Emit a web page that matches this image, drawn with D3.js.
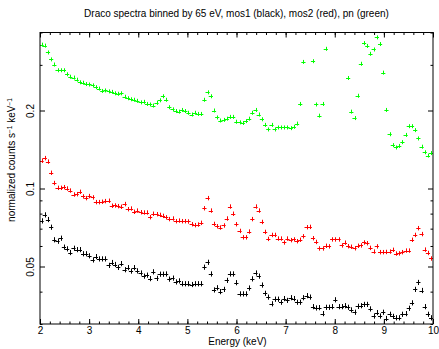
<html>
<head>
<script src="https://d3js.org/d3.v7.min.js"></script>
<style>
    body { margin: 0; background: white; }
    text { font-family: "Liberation Sans", Arial, sans-serif; fill: black; }
</style>
</head>
<body>
<script>

    // spectra, one value per 65 eV bin starting at 2 keV (normalized counts s^-1 keV^-1)
    let binStart = 2.0;
    let binWidth = 0.065;

    let mos1 = [0.0750, 0.0791, 0.0759, 0.0709, 0.0634, 0.0626, 0.0643, 0.0594, 0.0585, 0.0566,
        0.0588, 0.0581, 0.0581, 0.0560, 0.0560, 0.0550, 0.0530, 0.0546, 0.0535, 0.0535,
        0.0535, 0.0505, 0.0518, 0.0509, 0.0496, 0.0513, 0.0486, 0.0495, 0.0480, 0.0495,
        0.0481, 0.0472, 0.0459, 0.0463, 0.0449, 0.0477, 0.0450, 0.0467, 0.0467, 0.0468,
        0.0447, 0.0451, 0.0436, 0.0440, 0.0429, 0.0429, 0.0429, 0.0426, 0.0429, 0.0429,
        0.0429, 0.0497, 0.0519, 0.0468, 0.0406, 0.0414, 0.0400, 0.0408, 0.0442, 0.0468,
        0.0468, 0.0433, 0.0392, 0.0392, 0.0392, 0.0413, 0.0448, 0.0472, 0.0459, 0.0424,
        0.0394, 0.0381, 0.0359, 0.0374, 0.0374, 0.0364, 0.0376, 0.0370, 0.0379, 0.0376,
        0.0364, 0.0364, 0.0379, 0.0386, 0.0381, 0.0350, 0.0346, 0.0347, 0.0329, 0.0348,
        0.0348, 0.0350, 0.0372, 0.0350, 0.0350, 0.0353, 0.0348, 0.0340, 0.0333, 0.0351,
        0.0353, 0.0357, 0.0357, 0.0343, 0.0322, 0.0332, 0.0322, 0.0333, 0.0315, 0.0327,
        0.0321, 0.0317, 0.0317, 0.0327, 0.0329, 0.0345, 0.0362, 0.0408, 0.0434, 0.0404,
        0.0350, 0.0327, 0.0317];

    let mos2 = [0.128, 0.131, 0.127, 0.115, 0.105, 0.1006, 0.1006, 0.1012, 0.1000, 0.0982,
        0.0948, 0.0951, 0.0971, 0.0932, 0.0918, 0.0935, 0.0924, 0.0886, 0.0886, 0.0889,
        0.0894, 0.0897, 0.0858, 0.0860, 0.0855, 0.0850, 0.0871, 0.0832, 0.0837, 0.0813,
        0.0822, 0.0810, 0.0808, 0.0808, 0.0775, 0.0799, 0.0796, 0.0791, 0.0784, 0.0774,
        0.0762, 0.0766, 0.0748, 0.0752, 0.0748, 0.0748, 0.0746, 0.0728, 0.0722, 0.0726,
        0.0737, 0.0839, 0.0918, 0.0822, 0.0730, 0.0715, 0.0707, 0.0720, 0.0766, 0.0852,
        0.0799, 0.0728, 0.0686, 0.0648, 0.0648, 0.0682, 0.0762, 0.0852, 0.0822, 0.0743,
        0.0680, 0.0639, 0.0662, 0.0662, 0.0641, 0.0641, 0.0619, 0.0641, 0.0632, 0.0636,
        0.0626, 0.0634, 0.0654, 0.0709, 0.0711, 0.0643, 0.0622, 0.0587, 0.0587, 0.0601,
        0.0598, 0.0636, 0.0636, 0.0636, 0.0603, 0.0618, 0.0599, 0.0596, 0.0588, 0.0601,
        0.0603, 0.0619, 0.0615, 0.0590, 0.0571, 0.0598, 0.0568, 0.0568, 0.0569, 0.0571,
        0.0580, 0.0561, 0.0562, 0.0568, 0.0576, 0.0576, 0.0634, 0.0662, 0.0703, 0.0667,
        0.0581, 0.0564, 0.0537];

    // pn: the Ni / Cu instrumental lines run off the top of the plot
    let pn = [0.359, 0.356, 0.335, 0.315, 0.301, 0.286, 0.286, 0.286, 0.276, 0.270,
        0.268, 0.263, 0.257, 0.256, 0.253, 0.252, 0.250, 0.246, 0.243, 0.238,
        0.239, 0.237, 0.236, 0.233, 0.232, 0.233, 0.226, 0.223, 0.221, 0.220,
        0.218, 0.215, 0.216, 0.212, 0.211, 0.209, 0.214, 0.219, 0.227, 0.220,
        0.206, 0.202, 0.199, 0.198, 0.201, 0.199, 0.196, 0.193, 0.196, 0.194,
        0.194, 0.220, 0.235, 0.227, 0.200, 0.188, 0.183, 0.184, 0.186, 0.189,
        0.189, 0.181, 0.180, 0.179, 0.182, 0.186, 0.196, 0.201, 0.193, 0.185,
        0.176, 0.169, 0.176, 0.169, 0.172, 0.172, 0.172, 0.172, 0.171, 0.173,
        0.178, 0.212, 0.308, 0.520, 0.480, 0.310, 0.211, 0.191, 0.212, 0.346,
        0.550, 0.850, 0.950, 0.700, 0.500, 0.420, 0.267, 0.198, 0.187, 0.228,
        0.303, 0.364, 0.355, 0.331, 0.344, 0.383, 0.361, 0.280, 0.201, 0.162,
        0.147, 0.144, 0.146, 0.151, 0.161, 0.174, 0.174, 0.168, 0.156, 0.145,
        0.138, 0.134, 0.137];

    let xMajorTicks = [2, 3, 4, 5, 6, 7, 8, 9, 10];
    let yMajorTicks = [0.05, 0.1, 0.2];
    let yMinorTicks = [0.03, 0.04, 0.06, 0.07, 0.08, 0.09, 0.3, 0.4];

    let width = 439, height = 349;
    let margin = {top: 32.5, right: 6, bottom: 25, left: 40};

    let svg = d3.select("body").append("svg")
        .attr("width", width)
        .attr("height", height);

    let x = d3.scaleLinear().domain([2, 10]).range([margin.left, width - margin.right]);
    let y = d3.scaleLog().domain([0.03, 0.4]).range([height - margin.bottom, margin.top]);

    svg.append("clipPath").attr("id", "plotClip")
        .append("rect")
        .attr("x", margin.left).attr("y", margin.top)
        .attr("width", x(10) - x(2)).attr("height", y(0.03) - y(0.4));

    // draw one spectrum as crosses: horizontal = bin width, vertical = error bar
    function drawSpectrum(values, color, errPx){
        let g = svg.append("g").attr("clip-path", "url(#plotClip)")
            .attr("stroke", color).attr("stroke-width", 1);
        let pts = values.map((v, i) => ({e: binStart + binWidth * (i + 0.5), v: v}));
        g.selectAll(".h").data(pts).enter().append("line")
            .attr("x1", d => x(d.e - binWidth / 2) - 0.5).attr("x2", d => x(d.e + binWidth / 2) + 0.5)
            .attr("y1", d => Math.round(y(d.v)) + 0.5).attr("y2", d => Math.round(y(d.v)) + 0.5);
        g.selectAll(".v").data(pts).enter().append("line")
            .attr("x1", d => Math.round(x(d.e)) + 0.5).attr("x2", d => Math.round(x(d.e)) + 0.5)
            .attr("y1", d => y(d.v) - errPx).attr("y2", d => y(d.v) + errPx);
    }

    drawSpectrum(pn, "#00ff00", 2);
    drawSpectrum(mos2, "#ff0000", 2.2);
    drawSpectrum(mos1, "#000000", 2.6);

    // frame
    svg.append("rect")
        .attr("x", x(2)).attr("y", y(0.4))
        .attr("width", x(10) - x(2)).attr("height", y(0.03) - y(0.4))
        .attr("fill", "none").attr("stroke", "black").attr("stroke-width", 1);

    let xMinor = d3.range(2, 10.001, 0.2);

    // x axes, ticks pointing inwards, top and bottom
    svg.append("g").attr("transform", `translate(0,${y(0.03)})`)
        .call(d3.axisBottom(x).tickValues(xMajorTicks).tickSize(-5).tickPadding(3).tickFormat(d3.format("d")));
    svg.append("g").attr("transform", `translate(0,${y(0.03)})`)
        .call(d3.axisBottom(x).tickValues(xMinor).tickSize(-2.5).tickFormat(""));
    svg.append("g").attr("transform", `translate(0,${y(0.4)})`)
        .call(d3.axisTop(x).tickValues(xMajorTicks).tickSize(-5).tickFormat(""));
    svg.append("g").attr("transform", `translate(0,${y(0.4)})`)
        .call(d3.axisTop(x).tickValues(xMinor).tickSize(-2.5).tickFormat(""));

    // y axes, left and right
    let yLeft = svg.append("g").attr("transform", `translate(${x(2)},0)`)
        .call(d3.axisLeft(y).tickValues(yMajorTicks).tickSize(-5).tickFormat(d3.format("")));
    svg.append("g").attr("transform", `translate(${x(2)},0)`)
        .call(d3.axisLeft(y).tickValues(yMinorTicks).tickSize(-2.5).tickFormat(""));
    svg.append("g").attr("transform", `translate(${x(10)},0)`)
        .call(d3.axisRight(y).tickValues(yMajorTicks).tickSize(-5).tickFormat(""));
    svg.append("g").attr("transform", `translate(${x(10)},0)`)
        .call(d3.axisRight(y).tickValues(yMinorTicks).tickSize(-2.5).tickFormat(""));

    svg.selectAll(".domain").remove();
    svg.selectAll(".tick line").attr("stroke", "black");
    svg.selectAll(".tick text").attr("font-size", 10).attr("font-family", "Liberation Sans, Arial, sans-serif");

    // y tick labels are rotated like the axis title
    yLeft.selectAll(".tick text")
        .attr("x", null).attr("dy", null)
        .attr("text-anchor", "middle")
        .attr("transform", "translate(-6.5,0) rotate(-90)");

    // titles
    svg.append("text")
        .attr("x", (x(2) + x(10)) / 2).attr("y", 17)
        .attr("text-anchor", "middle").attr("font-size", 10)
        .text("Draco spectra binned by 65 eV, mos1 (black), mos2 (red), pn (green)");

    svg.append("text")
        .attr("x", (x(2) + x(10)) / 2 + 1).attr("y", 345)
        .attr("text-anchor", "middle").attr("font-size", 10)
        .text("Energy (keV)");

    svg.append("text")
        .attr("transform", `translate(14.5,160) rotate(-90)`)
        .attr("text-anchor", "middle").attr("font-size", 10)
        .html("normalized counts s<tspan baseline-shift='super' font-size='6.5'>−1</tspan> keV<tspan baseline-shift='super' font-size='6.5'>−1</tspan>");

</script>
</body>
</html>
